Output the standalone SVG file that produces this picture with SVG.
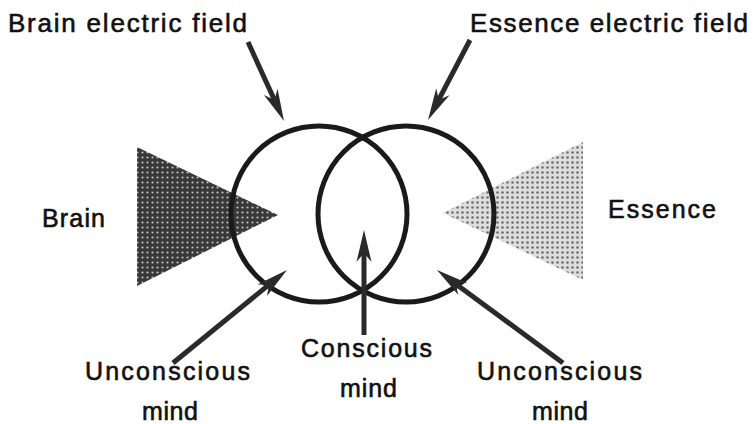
<svg xmlns="http://www.w3.org/2000/svg" width="754" height="424" viewBox="0 0 754 424">
  <style>
    .lbl { font-family: "Liberation Sans", Arial, sans-serif; font-size: 25px; fill: #111; stroke: #111; stroke-width: 0.6px; }
    .big { font-size: 26px; }
    .ring { fill: none; stroke: #1a1a1a; stroke-width: 5; }
    .arrow { stroke: #2a2a2a; stroke-width: 5; fill: none; marker-end: url(#head); }
  </style>
  <defs>
    <pattern id="darkDots" width="5" height="5" patternUnits="userSpaceOnUse">
      <rect width="5" height="5" fill="#383838"/>
      <circle cx="2.5" cy="2.5" r="1.1" fill="#c0c0c0"/>
    </pattern>
    <pattern id="lightDots" width="5" height="5" patternUnits="userSpaceOnUse">
      <rect width="5" height="5" fill="#dedede"/>
      <circle cx="2.5" cy="2.5" r="1.3" fill="#6e6e6e"/>
    </pattern>
    <marker id="head" markerUnits="userSpaceOnUse" markerWidth="40" markerHeight="20" refX="-20" refY="0" orient="auto" overflow="visible">
      <path d="M0,0 L-32,-7.5 L-23,0 L-32,7.5 Z" fill="#2a2a2a"/>
    </marker>
  </defs>
  <rect width="754" height="424" fill="#ffffff"/>

  <g id="brain">
    <polygon points="137,147 137,286 278,215" fill="url(#darkDots)"/>
    <text class="lbl" x="42" y="227" textLength="63" lengthAdjust="spacing">Brain</text>
  </g>
  <g id="essence">
    <polygon points="443,213 583,142 583,280" fill="url(#lightDots)"/>
    <text class="lbl" x="608" y="218" textLength="108" lengthAdjust="spacing">Essence</text>
  </g>
  <g id="brain-field">
    <circle class="ring" cx="319" cy="214" r="88"/>
  </g>
  <g id="essence-field">
    <circle class="ring" cx="406" cy="214" r="88"/>
  </g>
  <g id="label-brain-field">
    <text class="lbl big" x="8" y="32" textLength="239" lengthAdjust="spacing">Brain electric field</text>
  </g>
  <g id="label-essence-field">
    <text class="lbl big" x="470" y="32" textLength="278" lengthAdjust="spacing">Essence electric field</text>
  </g>
  <g id="conscious">
    <text class="lbl" x="301" y="357" textLength="131" lengthAdjust="spacing">Conscious</text>
    <text class="lbl" x="340" y="397" textLength="57" lengthAdjust="spacing">mind</text>
  </g>
  <g id="unconscious-left">
    <text class="lbl" x="85" y="380" textLength="165" lengthAdjust="spacing">Unconscious</text>
    <text class="lbl" x="142" y="420" textLength="56" lengthAdjust="spacing">mind</text>
  </g>
  <g id="unconscious-right">
    <text class="lbl" x="477" y="380" textLength="165" lengthAdjust="spacing">Unconscious</text>
    <text class="lbl" x="532" y="420" textLength="56" lengthAdjust="spacing">mind</text>
  </g>

  <g id="connectors">
    <line class="arrow" x1="248" y1="42" x2="275.7" y2="102.8"/>
    <line class="arrow" x1="470" y1="40" x2="437.3" y2="102.3"/>
    <line class="arrow" x1="364" y1="335" x2="364" y2="250"/>
    <line class="arrow" x1="173" y1="363" x2="271.5" y2="282.6"/>
    <line class="arrow" x1="563" y1="363" x2="453.1" y2="281.9"/>
  </g>
</svg>
